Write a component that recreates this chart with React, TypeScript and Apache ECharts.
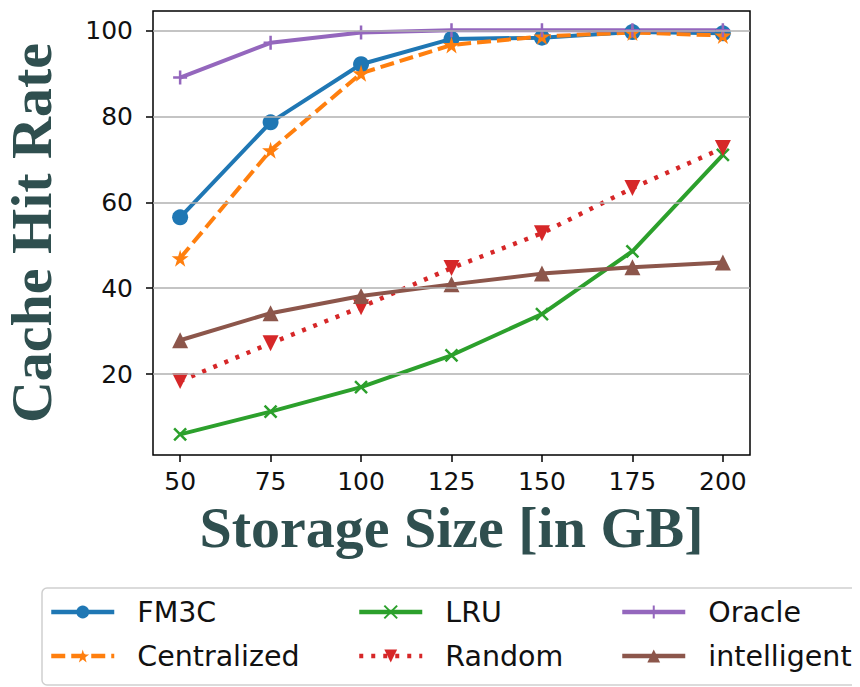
import React, { useEffect, useRef } from "react";
import * as echarts from "echarts";

const storageSizes = [50, 75, 100, 125, 150, 175, 200];
const fm3c = [56.5, 78.6, 92.1, 98.0, 98.3, 99.6, 99.3];
const centralized = [47.0, 72.1, 90.0, 96.6, 98.6, 99.5, 98.8];
const lru = [6.0, 11.3, 17.0, 24.4, 34.0, 48.6, 71.0];
const randomHits = [18.4, 27.2, 35.6, 44.7, 52.8, 63.3, 72.6];
const oracle = [89.0, 97.1, 99.5, 100.0, 100.0, 100.0, 100.0];
const intelligent = [27.9, 34.2, 38.2, 40.9, 43.4, 44.9, 46.0];
const yTicks = [20, 40, 60, 80, 100];
const xTicks = [50, 75, 100, 125, 150, 175, 200];

const STAR = "path://M50,0 L61,35 L98,35 L68,57 L79,91 L50,70 L21,91 L32,57 L2,35 L39,35 Z";
const CROSS = "path://M0,0L10,10M10,0L0,10";
const PLUS = "path://M5,0L5,10M0,5L10,5";

const pairs = (ys: number[]) => storageSizes.map((x, i) => [x, ys[i]]);

export default function App() {
  const ref = useRef<HTMLDivElement>(null);
  useEffect(() => {
    if (!ref.current) return;
    const chart = echarts.init(ref.current, undefined, { renderer: "svg" });
    const tickFont = { fontFamily: "DejaVu Sans", fontSize: 25, color: "#111" };
    const titleFont = {
      fontFamily: "Liberation Serif",
      fontWeight: "bold" as const,
      fontSize: 58,
      color: "#2F4F4F",
    };
    const mk = (
      name: string,
      ys: number[],
      color: string,
      symbol: string,
      size: number,
      extra: any = {}
    ) => ({
      name,
      type: "line",
      data: pairs(ys),
      symbol,
      symbolSize: size,
      z: 3,
      lineStyle: { color, width: 4, ...(extra.lineStyle || {}) },
      itemStyle: { color, borderColor: color, borderWidth: extra.borderWidth ?? 0 },
      symbolRotate: extra.rotate ?? 0,
    });
    const legendBase = {
      orient: "vertical" as const,
      top: 597,
      itemWidth: 63,
      itemHeight: 16,
      itemGap: 14,
      padding: 0,
      lineStyle: { width: 4.5 },
      textStyle: {
        fontFamily: "DejaVu Sans",
        fontSize: 28.5,
        color: "#111",
        lineHeight: 30,
        padding: [0, 0, 0, 18],
      },
    };
    chart.setOption({
      animation: false,
      backgroundColor: "#fff",
      grid: {
        left: 153,
        top: 11,
        right: 110,
        bottom: 232,
        outerBoundsMode: "none",
        containLabel: false,
        show: true,
        borderColor: "#000",
        borderWidth: 1.5,
        backgroundColor: "transparent",
      },
      xAxis: {
        type: "value",
        min: 42.5,
        max: 207.5,
        name: "Storage Size [in GB]",
        nameLocation: "middle",
        nameGap: 43,
        nameTextStyle: { ...titleFont, verticalAlign: "top" },
        axisLine: { show: false },
        axisTick: { show: true, length: 7, lineStyle: { color: "#000", width: 1.5 }, customValues: xTicks },
        axisLabel: { ...tickFont, margin: 14, customValues: xTicks },
        splitLine: { show: false },
      },
      yAxis: {
        type: "value",
        min: 1.2,
        max: 104.5,
        name: "Cache Hit Rate",
        nameLocation: "middle",
        nameGap: 98,
        nameTextStyle: { ...titleFont, lineHeight: 48 },
        axisLine: { show: false },
        axisTick: { show: true, length: 7, lineStyle: { color: "#000", width: 1.5 }, customValues: yTicks },
        axisLabel: { ...tickFont, margin: 20, customValues: yTicks },
        splitLine: { show: false },
      },
      legend: [
        { ...legendBase, left: 49, data: ["FM3C", "Centralized"] },
        { ...legendBase, left: 357, data: ["LRU", "Random"] },
        { ...legendBase, left: 620, data: ["Oracle", "intelligent"] },
      ],
      graphic: [
        {
          type: "rect",
          z: -10,
          shape: { x: 42, y: 588, width: 840, height: 97, r: 5 },
          style: { fill: "#fff", stroke: "#cfcfcf", lineWidth: 1.5 },
        },
      ],
      series: [
        {
          name: "grid",
          type: "line",
          data: [],
          z: 1,
          silent: true,
          markLine: {
            silent: true,
            symbol: "none",
            label: { show: false },
            lineStyle: { color: "#b0b0b0", width: 1.5, type: "solid" },
            data: yTicks.map((v) => ({ yAxis: v })),
          },
        },
        mk("FM3C", fm3c, "#1f77b4", "circle", 16),
        mk("Centralized", centralized, "#ff7f0e", STAR, 17, {
          lineStyle: { type: [14, 6] },
        }),
        mk("LRU", lru, "#2ca02c", CROSS, 12, { borderWidth: 2.5 }),
        mk("Random", randomHits, "#d62728", "triangle", 16, {
          lineStyle: { type: [4, 8], width: 4.5 },
          rotate: 180,
        }),
        mk("Oracle", oracle, "#9467bd", PLUS, 14, { borderWidth: 2.5 }),
        mk("intelligent", intelligent, "#8c564b", "triangle", 16),
      ],
    });
    return () => chart.dispose();
  }, []);
  return <div ref={ref} style={{ width: 860, height: 687, marginLeft: -8, marginTop: -8 }} />;
}
